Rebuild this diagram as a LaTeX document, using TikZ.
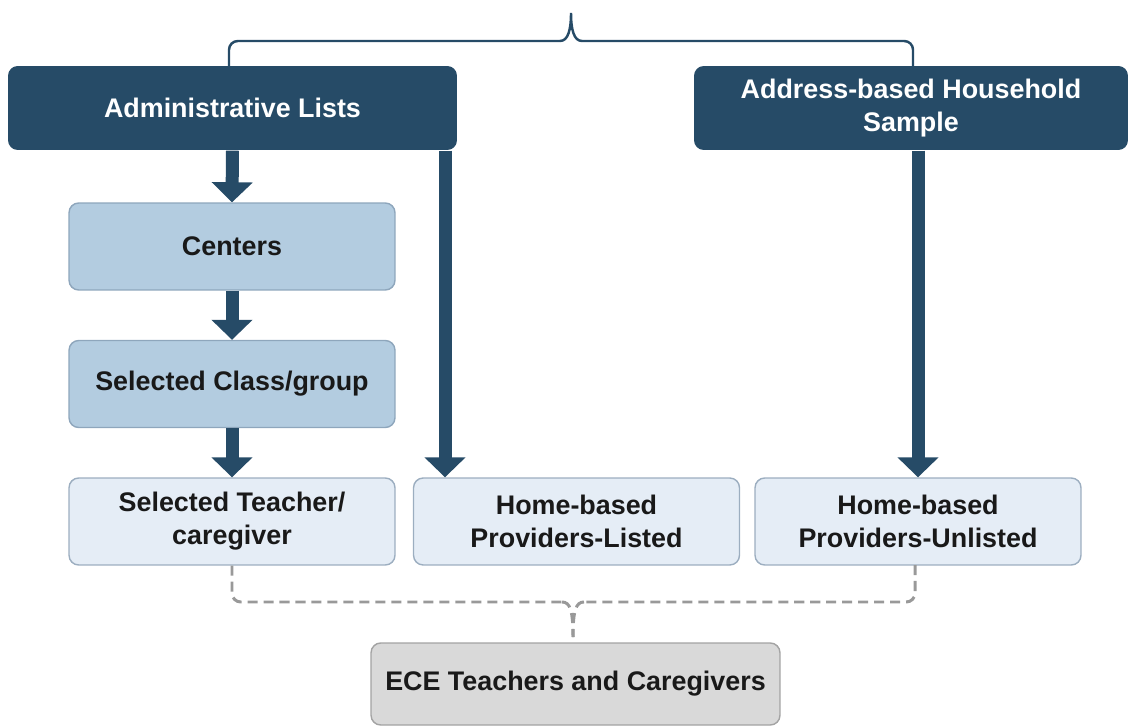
\documentclass[tikz,border=0pt]{standalone}
\usepackage{fontspec}
\setmainfont{Liberation Sans}
\usetikzlibrary{arrows.meta}
\definecolor{navy}{HTML}{264B67}
\definecolor{midblue}{HTML}{B3CCE0}
\definecolor{midline}{HTML}{8EA6BC}
\definecolor{paleblue}{HTML}{E5EDF6}
\definecolor{paleline}{HTML}{9CAEC0}
\definecolor{greyfill}{HTML}{D9D9D9}
\definecolor{greyline}{HTML}{A3A3A3}
\definecolor{dashgrey}{HTML}{999999}

\begin{document}
\begin{tikzpicture}[
  x=0.02cm, y=-0.02cm,
  font=\fontsize{15.3}{18.7}\selectfont\bfseries,
  box/.style={draw, rounded corners=5.5pt, align=center, inner sep=0pt, line width=0.8pt, text=black!90},
  hdr/.style={box, draw=none, fill=navy, text=white, minimum height=1.68cm},
  stage/.style={box, draw=midline, fill=midblue, minimum width=6.52cm, minimum height=1.74cm},
  leaf/.style={box, draw=paleline, fill=paleblue, minimum width=6.52cm, minimum height=1.74cm},
  flow/.style={-{Triangle[width=0.8cm, length=0.4cm]}, line width=0.26cm, navy},   % thick sampling arrows
  brace/.style={navy, line width=1.4pt},
  gather/.style={dashgrey, line width=1.7pt, dash pattern=on 5.7pt off 3.4pt}
]
\useasboundingbox (0,0) rectangle (1135,726);

% Frames
\node[hdr, minimum width=8.98cm] (adm) at (232.5,108) {Administrative Lists};
\node[hdr, minimum width=8.68cm] (abs) at (911,108)   {Address-based Household\\Sample};

% Sampled units
\node[stage] (cen) at (232,246.5) {Centers};
\node[stage] (cls) at (232,384)   {Selected Class/group};
\node[leaf]  (tch) at (232,521.5) {Selected Teacher/\\caregiver};
\node[leaf]  (lst) at (576.5,521.5) {Home-based\\Providers-Listed};
\node[leaf]  (unl) at (918,521.5)   {Home-based\\Providers-Unlisted};
\node[box, draw=greyline, fill=greyfill, minimum width=8.18cm, minimum height=1.64cm] (ece) at (575.5,684) {ECE Teachers and Caregivers};

% Helper points
\coordinate (lx)   at (445,0);
\coordinate (tl)   at (229,66);
\coordinate (tr)   at (913,66);
\coordinate (ttip) at (571,13);
\coordinate (br)   at (915,565);
\coordinate (btip) at (573,637);

% Arrows
\draw[flow] (adm.south) -- (cen.north);
\draw[flow] (cen.south) -- (cls.north);
\draw[flow] (cls.south) -- (tch.north);
\draw[flow] (adm.south -| lx) -- (lst.north -| lx);
\draw[flow] (abs.south -| unl.north) -- (unl.north);

% Top brace over both frames
\draw[brace, rounded corners=5pt] (tl) |- (560,41);
\draw[brace, rounded corners=5pt] (tr) |- (582,41);
\draw[brace] (560,41) .. controls (568,41) and (571,30) .. (ttip)
  .. controls (571,30) and (574,41) .. (582,41);

% Dashed brace into the final group
\draw[gather, rounded corners=5pt] (tch.south) |- (562,602);
\draw[gather, rounded corners=5pt] (br) |- (584,602);
\draw[gather] (562,602) .. controls (570,602) and (573,610) .. (btip);
\draw[gather] (584,602) .. controls (576,602) and (573,610) .. (btip);

\end{tikzpicture}
\end{document}
